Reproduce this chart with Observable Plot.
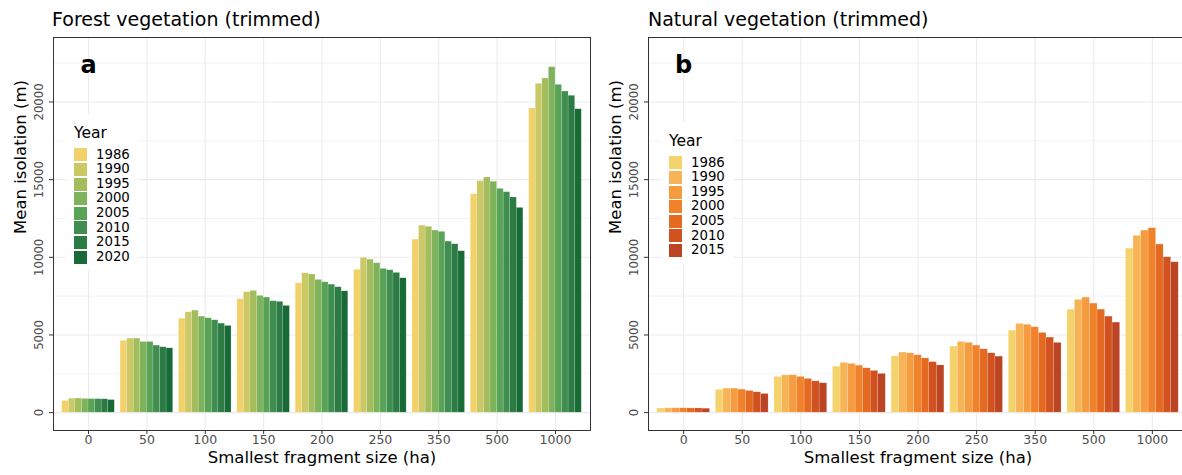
<!DOCTYPE html>
<html><head><meta charset="utf-8">
<script src="https://cdn.jsdelivr.net/npm/d3@7"></script>
<script src="https://cdn.jsdelivr.net/npm/@observablehq/plot@0.6"></script>
<style>
html,body{margin:0;padding:0;background:#fff;width:1182px;height:475px;overflow:hidden;font-family:"DejaVu Sans",sans-serif;}
.panel{position:absolute;top:0;height:475px;}
.title{position:absolute;top:10px;font-size:19px;line-height:19px;white-space:nowrap;color:#000;}
.plotwrap{position:absolute;top:30px;left:0;}
.plotwrap svg{position:absolute;top:0;left:0;}
.legend{position:absolute;background:#fff;box-sizing:border-box;padding:9.5px 0 0 8px;}
.legend .lt{font-size:15.5px;line-height:18px;height:18px;color:#000;margin-bottom:6.2px;}
.legend .row{display:flex;align-items:center;height:14.6px;}
.legend .sw{width:12.7px;height:13px;}
.legend .lb{margin-left:9.3px;font-size:13.3px;line-height:14.6px;color:#000;}
</style>
</head><body>
<div id="root"></div>
<script>
const categories = ["0","50","100","150","200","250","350","500","1000"];
const forestYears = ["1986","1990","1995","2000","2005","2010","2015","2020"];
const naturalYears = ["1986","1990","1995","2000","2005","2010","2015"];
const forestColors = ["#f3d16a","#cbc866","#a3bd5c","#7eb25b","#58a355","#3f8d4f","#2c7b45","#186b36"];
const naturalColors = ["#f5d36c","#f7b457","#f59c40","#f2822a","#e46a22","#d2521f","#bb4523"];
// rows = categories, columns = years
const forestValues = [
  [750, 900, 910, 880, 870, 870, 860, 810],
  [4620, 4765, 4765, 4550, 4550, 4315, 4210, 4140],
  [6050, 6460, 6570, 6180, 6075, 5945, 5730, 5580],
  [7300, 7750, 7835, 7515, 7405, 7170, 7130, 6870],
  [8330, 8970, 8890, 8545, 8390, 8240, 8070, 7810],
  [9190, 9960, 9850, 9615, 9250, 9165, 8995, 8650],
  [11140, 12040, 11960, 11720, 11635, 11010, 10840, 10390],
  [14060, 14900, 15135, 14860, 14405, 14190, 13850, 13180],
  [19580, 21170, 21510, 22240, 21100, 20670, 20395, 19530]
];
const naturalValues = [
  [270, 280, 280, 280, 270, 270, 250],
  [1460, 1545, 1545, 1480, 1395, 1310, 1200],
  [2300, 2400, 2400, 2300, 2170, 2015, 1890],
  [2960, 3200, 3135, 3025, 2855, 2685, 2490],
  [3625, 3865, 3820, 3690, 3490, 3250, 3040],
  [4250, 4550, 4490, 4315, 4080, 3820, 3605],
  [5280, 5710, 5650, 5495, 5130, 4830, 4490],
  [6630, 7255, 7405, 7020, 6630, 6180, 5795],
  [10560, 11380, 11720, 11870, 10820, 10000, 9680]
];
const majorTicks = [0, 5000, 10000, 15000, 20000];
const minorTicks = [2500, 7500, 12500, 17500, 22500];
const yDomain = [-1150, 24150];
const xTitle = "Smallest fragment size (ha)";
const yTitle = "Mean isolation (m)";
const legendTitle = "Year";

function tidy(values, years) {
  const rows = [];
  categories.forEach((c, i) => years.forEach((y, j) => rows.push({cat: c, year: y, value: values[i][j]})));
  return rows;
}

const H = 445, MT = 7, MB = 45;
const root = document.getElementById("root");

function makePanel(cfg) {
  const panel = document.createElement("div");
  panel.className = "panel";
  panel.style.left = cfg.left + "px";
  panel.style.width = cfg.width + "px";
  root.appendChild(panel);

  const t = document.createElement("div");
  t.className = "title";
  t.style.left = cfg.titleLeft + "px";
  t.textContent = cfg.title;
  panel.appendChild(t);

  const wrap = document.createElement("div");
  wrap.className = "plotwrap";
  wrap.style.width = cfg.width + "px";
  wrap.style.height = H + "px";
  panel.appendChild(wrap);

  const common = {
    width: cfg.width, height: H, marginTop: MT, marginBottom: MB,
    marginLeft: cfg.marginLeft, marginRight: cfg.marginRight,
    style: {fontFamily: "DejaVu Sans", background: "transparent", overflow: "visible"}
  };

  const back = Plot.plot({
    ...common,
    x: {type: "band", domain: categories, paddingInner: 0.1, paddingOuter: 0.15, round: false, axis: null},
    y: {domain: yDomain, axis: null},
    marks: [
      Plot.gridY(minorTicks, {stroke: "#ebebeb", strokeOpacity: 1, strokeWidth: 0.6}),
      Plot.gridY(majorTicks, {stroke: "#ebebeb", strokeOpacity: 1, strokeWidth: 1.1}),
      Plot.gridX(categories, {stroke: "#ebebeb", strokeOpacity: 1, strokeWidth: 1.1}),
      Plot.axisY(majorTicks, {tickSize: 4, tickFormat: () => "", stroke: "#333", strokeWidth: 1, label: null}),
      Plot.axisX(categories, {tickSize: 4, tickFormat: () => "", stroke: "#333", strokeWidth: 1, label: null}),
      Plot.text(majorTicks, {y: d => d, text: d => String(d), frameAnchor: "left", dx: -14, rotate: -90,
        textAnchor: "middle", lineAnchor: "middle", fill: "#4d4d4d", fontSize: 11.7}),
      Plot.text(categories, {x: d => d, text: d => d, frameAnchor: "bottom", dy: 5, lineAnchor: "top",
        fill: "#4d4d4d", fontSize: 12.5}),
      Plot.text([xTitle], {text: d => d, frameAnchor: "bottom", dy: 32, fontSize: 16.5, fill: "#000"}),
      Plot.text([yTitle], {text: d => d, frameAnchor: "left", dx: -33, rotate: -90, fontSize: 16.5, fill: "#000"}),
      Plot.text([cfg.letter], {x: () => categories[0], text: d => d, frameAnchor: "top", dy: 18,
        fontSize: 24, fontWeight: "bold", fill: "#000"}),
      Plot.frame({stroke: "#333", strokeWidth: 1})
    ]
  });
  wrap.appendChild(back);

  const front = Plot.plot({
    ...common,
    fx: {domain: categories, paddingInner: 0.1, paddingOuter: 0.15, round: false, axis: null, label: null},
    x: {domain: cfg.years, padding: 0, round: false, axis: null},
    y: {domain: yDomain, axis: null},
    color: {domain: cfg.years, range: cfg.colors},
    marks: [
      Plot.barY(tidy(cfg.values, cfg.years), {fx: "cat", x: "year", y: "value", fill: "year",
        stroke: "#fff", strokeOpacity: 0.3, strokeWidth: 0.5})
    ]
  });
  wrap.appendChild(front);

  const lg = document.createElement("div");
  lg.className = "legend";
  lg.style.left = cfg.legendLeft + "px";
  lg.style.top = cfg.legendTop + "px";
  lg.style.width = "72px";
  lg.style.height = (41 + cfg.years.length * 14.6 - 7.3 + 14.3 - 14.6 + 7) + "px";
  const lt = document.createElement("div");
  lt.className = "lt";
  lt.textContent = legendTitle;
  lg.appendChild(lt);
  const colorScale = front.scale("color");
  cfg.years.forEach((y) => {
    const r = document.createElement("div");
    r.className = "row";
    const sw = document.createElement("div");
    sw.className = "sw";
    sw.style.background = colorScale.apply(y);
    const lb = document.createElement("div");
    lb.className = "lb";
    lb.textContent = y;
    r.appendChild(sw); r.appendChild(lb);
    lg.appendChild(r);
  });
  panel.appendChild(lg);
}

makePanel({left: 0, width: 591, marginLeft: 53, marginRight: 1, titleLeft: 52,
  title: "Forest vegetation (trimmed)", letter: "a", years: forestYears, colors: forestColors,
  values: forestValues, legendLeft: 66, legendTop: 114});
makePanel({left: 591, width: 600, marginLeft: 57, marginRight: 4, titleLeft: 57,
  title: "Natural vegetation (trimmed)", letter: "b", years: naturalYears, colors: naturalColors,
  values: naturalValues, legendLeft: 70, legendTop: 122});
</script>
</body></html>
